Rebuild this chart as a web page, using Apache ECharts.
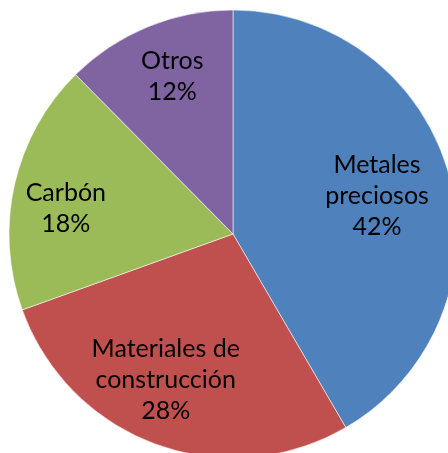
<!DOCTYPE html>
<html>
<head>
<meta charset="utf-8">
<script src="https://cdn.jsdelivr.net/npm/echarts@6/dist/echarts.min.js"></script>
<style>html,body{margin:0;padding:0;background:#fff;}#c{width:448px;height:453px;}</style>
</head>
<body>
<div id="c"></div>
<script>
const categories = ['Metales\npreciosos', 'Materiales de\nconstrucción', 'Carbón', 'Otros'];
const values = [41.6, 27.9, 18.1, 12.4];
const colors = ['#4F81BD', '#C0504D', '#9BBB59', '#8064A2'];
const labelShift = [[33, -8], [-28, 38], [-55, 0], [-17, -51]];

const chart = echarts.init(document.getElementById('c'), null, {renderer: 'canvas'});
chart.setOption({
  animation: false,
  series: [{
    type: 'pie',
    center: [233, 234],
    radius: 224,
    startAngle: 90,
    clockwise: true,
    percentPrecision: 0,
    data: categories.map((c, i) => ({name: c, value: values[i], itemStyle: {color: colors[i]}})),
    itemStyle: {borderColor: 'rgba(255,255,255,0.55)', borderWidth: 1},
    label: {
      show: true,
      position: 'inside',
      formatter: '{b}\n{d}%',
      fontFamily: 'Lato',
      fontSize: 25,
      lineHeight: 31,
      color: '#000',
      align: 'center'
    },
    labelLine: {show: false},
    emphasis: {disabled: true},
    labelLayout: function (p) {
      const s = labelShift[p.dataIndex];
      return {dx: s[0], dy: s[1]};
    }
  }]
});
</script>
</body>
</html>
